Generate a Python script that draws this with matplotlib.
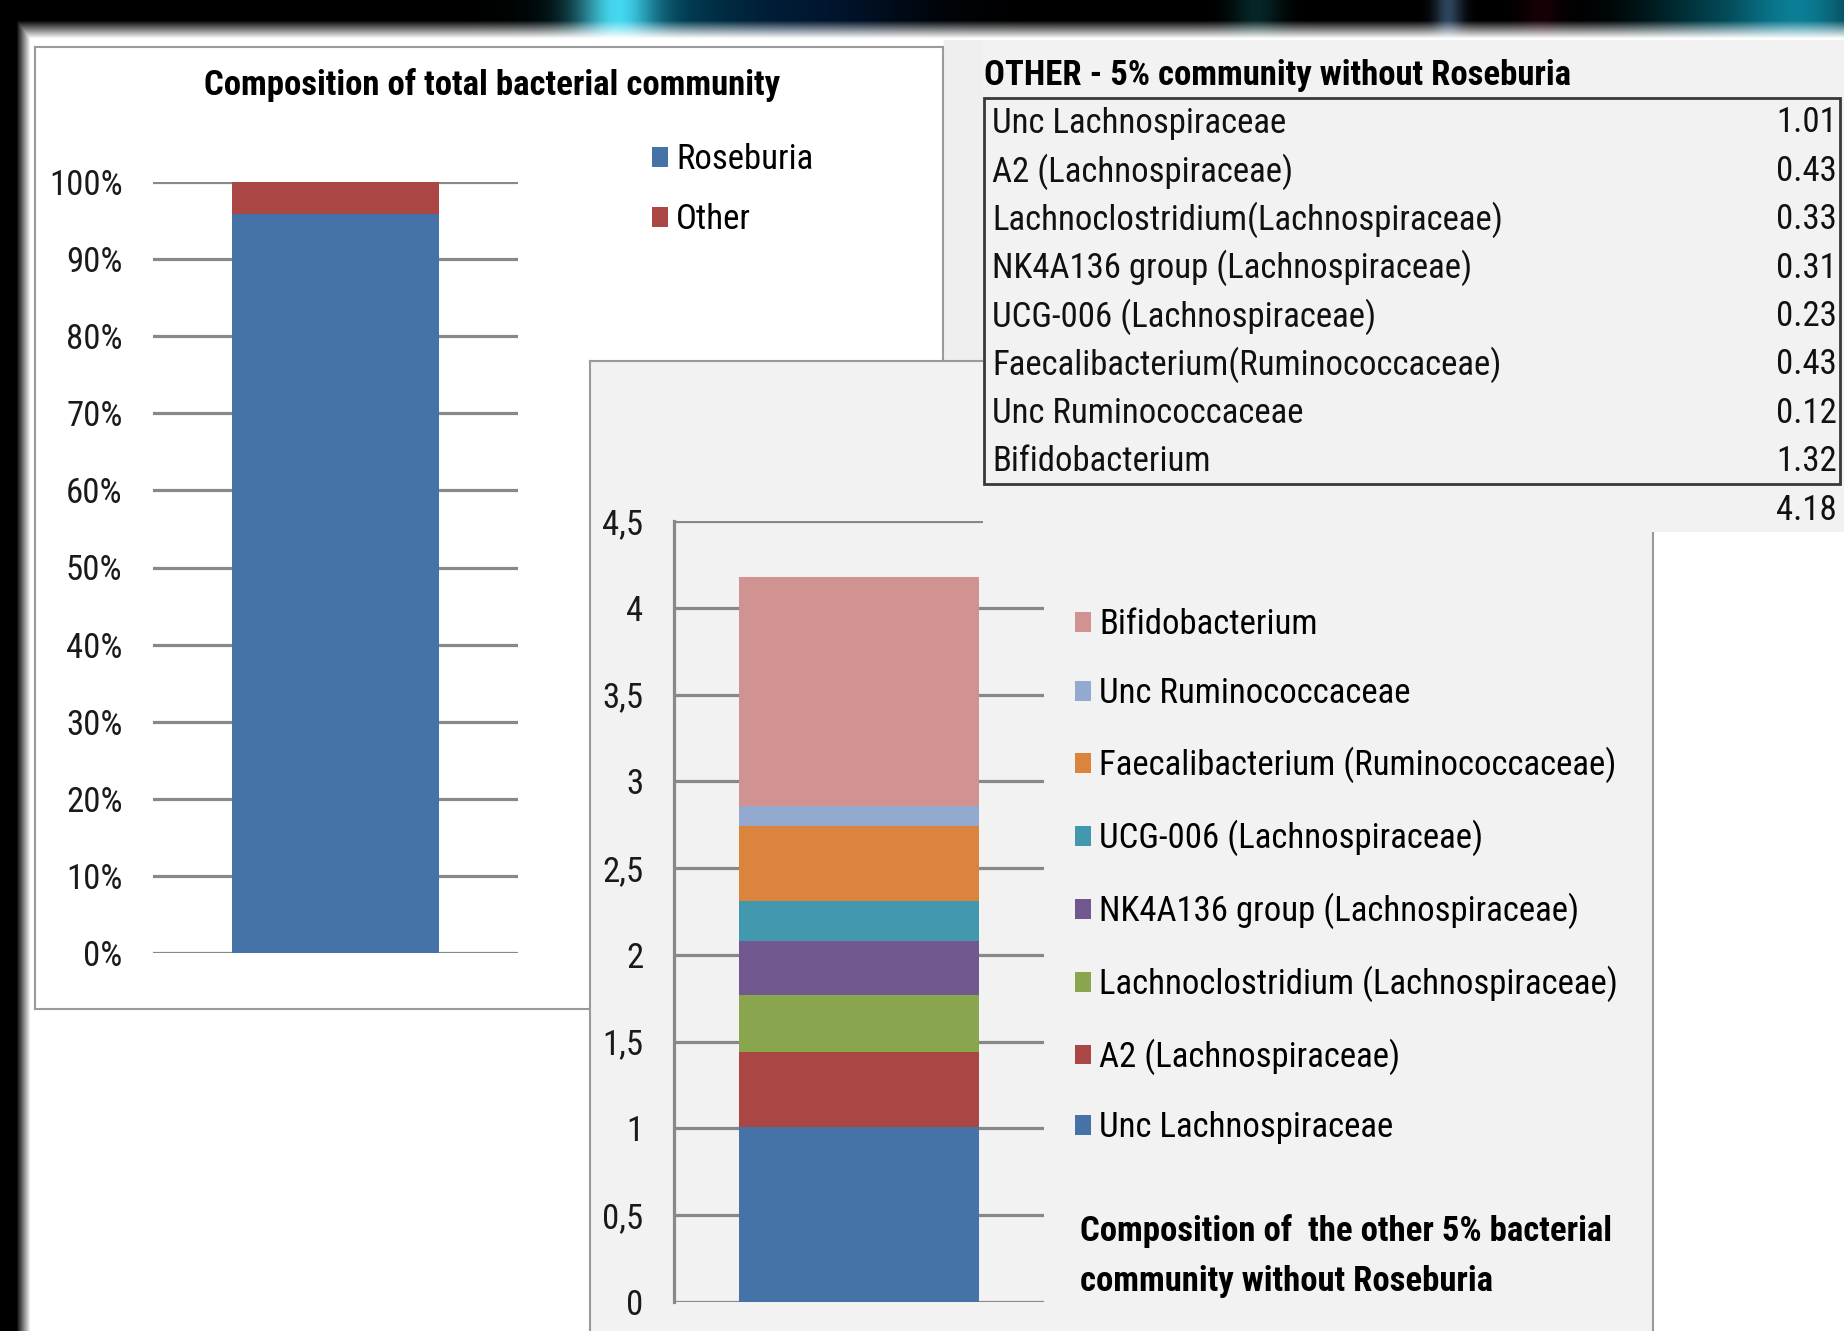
import numpy as np
import matplotlib.pyplot as plt
from matplotlib import font_manager as fm
from matplotlib.patches import Rectangle

# Whole community split (percent)
total_labels = ['Roseburia', 'Other']
total_values = [95.82, 4.18]
total_colors = ['#4572A7', '#AA4643']
total_ticks = [0, 10, 20, 30, 40, 50, 60, 70, 80, 90, 100]
total_tick_labels = ['0%', '10%', '20%', '30%', '40%', '50%', '60%', '70%', '80%', '90%', '100%']

# The remaining community without Roseburia
table_labels = ['Unc Lachnospiraceae', 'A2 (Lachnospiraceae)',
                'Lachnoclostridium(Lachnospiraceae)', 'NK4A136 group (Lachnospiraceae)',
                'UCG-006 (Lachnospiraceae)', 'Faecalibacterium(Ruminococcaceae)',
                'Unc Ruminococcaceae', 'Bifidobacterium']
legend_labels = ['Unc Lachnospiraceae', 'A2 (Lachnospiraceae)',
                 'Lachnoclostridium (Lachnospiraceae)', 'NK4A136 group (Lachnospiraceae)',
                 'UCG-006 (Lachnospiraceae)', 'Faecalibacterium (Ruminococcaceae)',
                 'Unc Ruminococcaceae', 'Bifidobacterium']
other_values = [1.01, 0.43, 0.33, 0.31, 0.23, 0.43, 0.12, 1.32]
other_colors = ['#4572A7', '#AA4643', '#89A54E', '#71588F',
                '#4198AF', '#DB843D', '#93A9CF', '#D19392']
other_ticks = [0, 0.5, 1, 1.5, 2, 2.5, 3, 3.5, 4, 4.5]
other_tick_labels = ['0', '0,5', '1', '1,5', '2', '2,5', '3', '3,5', '4', '4,5']

# pick a narrow sans face if one is installed
names = {f.name for f in fm.fontManager.ttflist}
narrow = [n for n in ['Liberation Sans Narrow', 'Arial Narrow', 'Roboto Condensed',
                      'Open Sans Condensed', 'Noto Sans Condensed', 'DejaVu Sans Condensed']
          if n in names]
cond = [f for f in fm.fontManager.ttflist
        if str(f.stretch) in ('condensed', 'semi-condensed', 'extra-condensed')]
FS = 25
if narrow:
    plt.rcParams['font.family'] = [narrow[0], 'DejaVu Sans']
elif cond:
    plt.rcParams['font.family'] = [cond[0].name, 'DejaVu Sans']
    plt.rcParams['font.stretch'] = cond[0].stretch
    FS = 22
else:
    plt.rcParams['font.family'] = ['DejaVu Sans']
    FS = 18

W, H = 1844, 1331
GRID = '#888888'
GRID_LW = 2.3

fig = plt.figure(figsize=(W / 100, H / 100), dpi=100)


def box(x0, y0, x1, y1):
    # pixel box (y measured from the top) -> figure fraction rect
    return [x0 / W, 1 - y1 / H, (x1 - x0) / W, (y1 - y0) / H]


# ---- slide background: dark frame on top and left, soft teal glows
yy = np.arange(H)[:, None].astype(float)
xx = np.arange(W)[None, :].astype(float)
top = np.clip((yy - 20) / 18, 0, 1)
left = np.clip((xx - 16) / 14, 0, 1)
img = np.ones((H, W, 3))
img[40:532, 943:] = 0.94
img *= np.minimum(top, left)[..., None]
band = (1 - top) * np.clip((xx - 30) / 20, 0, 1)
glows = [(615, 40, (0.30, 0.75, 0.80), 0.9),
         (660, 90, (0.00, 0.35, 0.45), 0.6),
         (810, 110, (0.00, 0.10, 0.22), 0.8),
         (1255, 25, (0.05, 0.30, 0.30), 0.5),
         (1447, 14, (0.30, 0.45, 0.60), 0.6),
         (1540, 20, (0.18, 0.00, 0.05), 0.5),
         (1700, 70, (0.00, 0.28, 0.33), 0.6),
         (1800, 70, (0.05, 0.52, 0.62), 0.9)]
for cx, w, col, a in glows:
    g = a * np.exp(-((xx - cx) / w) ** 2)
    img += (band * g)[..., None] * np.array(col)
img = np.clip(img, 0, 1)

bg = fig.add_axes([0, 0, 1, 1], zorder=0)
bg.imshow(img, extent=(0, W, H, 0), aspect='auto', interpolation='bilinear')
bg.set_xlim(0, W)
bg.set_ylim(H, 0)
bg.axis('off')


def panel(rect, face, z):
    p = fig.add_axes(rect, zorder=z)
    p.set_facecolor(face)
    p.set_xticks([])
    p.set_yticks([])
    for s in p.spines.values():
        s.set_color('#9a9a9a')
        s.set_linewidth(1.5)
    return p


# ---- left panel: total community
panel(box(35, 47, 943, 1009), 'white', 1)
ax1 = fig.add_axes(box(153, 182, 517.5, 953), zorder=2)
ax1.patch.set_visible(False)
bottom = 0
for lab, v, c in zip(total_labels, total_values, total_colors):
    ax1.bar(0, v, bottom=bottom, width=0.568, color=c, label=lab, linewidth=0, zorder=2)
    bottom += v
ax1.set_xlim(-0.5, 0.5)
ax1.set_ylim(0, 100)
ax1.set_xticks([])
ax1.set_yticks(total_ticks)
ax1.set_yticklabels(total_tick_labels)
ax1.tick_params(axis='y', length=0, pad=22, labelsize=FS, labelcolor='#1a1a1a')
ax1.yaxis.grid(True, color=GRID, linewidth=GRID_LW)
ax1.set_axisbelow(True)
for s in ax1.spines.values():
    s.set_visible(False)
ax1.legend(loc='upper left', bbox_to_anchor=(652 / W, 1 - 143 / H),
           bbox_transform=fig.transFigure, frameon=False, fontsize=FS,
           handlelength=0.45, handleheight=0.5, handletextpad=0.25,
           labelspacing=0.78, borderpad=0, borderaxespad=0)
fig.text(491.6 / W, 1 - 84.7 / H, 'Composition of total bacterial community',
         ha='center', va='center', fontsize=FS, fontweight='bold', zorder=3)

# ---- right panel: breakdown of the remaining part
rp = panel(box(590, 361, 1653, 1345), '#f2f2f2', 3)
ax2 = fig.add_axes(box(674, 521, 1044, 1302), zorder=4)
ax2.patch.set_visible(False)
bottom = 0
for lab, v, c in zip(legend_labels, other_values, other_colors):
    ax2.bar(0, v, bottom=bottom, width=0.646, color=c, label=lab, linewidth=0, zorder=2)
    bottom += v
ax2.set_xlim(-0.5, 0.5)
ax2.set_ylim(0, 4.5)
ax2.set_xticks([])
ax2.set_yticks(other_ticks)
ax2.set_yticklabels(other_tick_labels)
ax2.tick_params(axis='y', length=0, pad=22, labelsize=FS, labelcolor='#1a1a1a')
ax2.yaxis.grid(True, color=GRID, linewidth=GRID_LW)
ax2.set_axisbelow(True)
for k in ['top', 'right', 'bottom']:
    ax2.spines[k].set_visible(False)
ax2.spines['left'].set_color(GRID)
ax2.spines['left'].set_linewidth(GRID_LW)
handles, labels = ax2.get_legend_handles_labels()
ax2.legend(handles[::-1], labels[::-1], loc='upper left',
           bbox_to_anchor=(1075 / W, 1 - 608 / H), bbox_transform=fig.transFigure,
           frameon=False, fontsize=FS, handlelength=0.45, handleheight=0.5,
           handletextpad=0.25, labelspacing=1.05, borderpad=0, borderaxespad=0)
ax2.text(1080 / W, 1 - 1256 / H,
         'Composition of  the other 5% bacterial\ncommunity without Roseburia',
         transform=fig.transFigure, ha='left', va='center', fontsize=FS,
         fontweight='bold', linespacing=1.65)

# ---- table of the remaining part, laid over the top right corner
tb = fig.add_axes([0, 0, 1, 1], zorder=5)
tb.set_xlim(0, W)
tb.set_ylim(H, 0)
tb.axis('off')
tb.add_patch(Rectangle((983, 40), W - 983, 492, facecolor='#f2f2f2', edgecolor='none'))
tb.add_patch(Rectangle((984, 98), 856, 386, facecolor='none', edgecolor='#383838', linewidth=2))
tb.text(984, 75, 'OTHER - 5% community without Roseburia', ha='left', va='center',
        fontsize=FS, fontweight='bold')
row_y0, row_step = 123, 48.4
for i, (lab, v) in enumerate(zip(table_labels, other_values)):
    y = row_y0 + i * row_step
    tb.text(992, y, lab, ha='left', va='center', fontsize=FS, color='#111111')
    tb.text(1837, y, f'{v:.2f}', ha='right', va='center', fontsize=FS, color='#111111')
tb.text(1837, 510, f'{sum(other_values):.2f}', ha='right', va='center',
        fontsize=FS, color='#111111')

fig.savefig('out.png', dpi=100)
